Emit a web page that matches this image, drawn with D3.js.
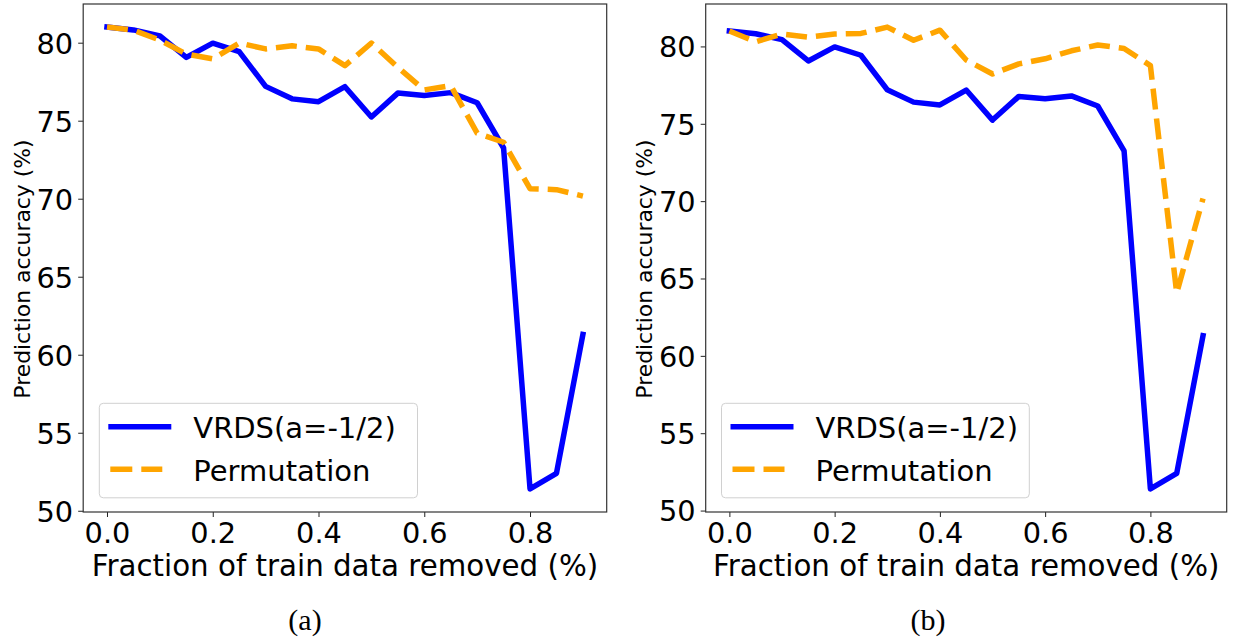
<!DOCTYPE html>
<html>
<head>
<meta charset="utf-8">
<script src="https://cdn.jsdelivr.net/npm/d3@7"></script>
<style>
  body { margin: 0; background: #fff; }
  svg { display: block; }
</style>
</head>
<body>
<svg id="chart" width="1233" height="639"></svg>
<script>
// ---- data ----
const fractions = [0.0, 0.05, 0.1, 0.15, 0.2, 0.25, 0.3, 0.35, 0.4, 0.45, 0.5, 0.55, 0.6, 0.65, 0.7, 0.75, 0.8, 0.85, 0.9];
const vrds = [81.0, 80.82, 80.44, 79.06, 79.97, 79.43, 77.2, 76.4, 76.22, 77.18, 75.24, 76.77, 76.62, 76.8, 76.15, 73.25, 51.4, 52.4, 61.3];
const permutationA = [81.0, 80.8, 80.17, 79.27, 78.96, 79.98, 79.6, 79.8, 79.6, 78.53, 79.98, 78.42, 76.97, 77.25, 74.2, 73.62, 70.64, 70.58, 70.17];
const permutationB = [81.0, 80.3, 80.8, 80.6, 80.8, 80.84, 81.25, 80.4, 81.05, 79.12, 78.22, 78.87, 79.2, 79.72, 80.09, 79.87, 78.76, 64.06, 70.17];
const xTicks = [0.0, 0.2, 0.4, 0.6, 0.8];
const yTicks = [50, 55, 60, 65, 70, 75, 80];
const seriesNames = ["VRDS(a=-1/2)", "Permutation"];
const captions = ["(a)", "(b)"];
const xLabel = "Fraction of train data removed (%)";
const yLabel = "Prediction accuracy (%)";

const svg = d3.select("#chart");
const FONT = "'DejaVu Sans', Verdana, sans-serif";

const panels = [
  { left: 83.2, right: 606.7, perm: permutationA, legend: [99.3, 417.5], ylabX: 22, capX: 305, cap: captions[0] },
  { left: 705.7, right: 1226.7, perm: permutationB, legend: [721.5, 1029.3], ylabX: 644, capX: 928, cap: captions[1] }
];
const plotTop = 4, plotBottom = 512;

panels.forEach(p => {
  const allY = vrds.concat(p.perm);
  const ymin = d3.min(allY), ymax = d3.max(allY);
  const ypad = (ymax - ymin) * 0.05;
  const xmin = d3.min(fractions), xmax = d3.max(fractions);
  const xpad = (xmax - xmin) * 0.05;

  const x = d3.scaleLinear().domain([xmin - xpad, xmax + xpad]).range([p.left, p.right]);
  const y = d3.scaleLinear().domain([ymin - ypad, ymax + ypad]).range([plotBottom, plotTop]);

  const g = svg.append("g");

  // lines
  const line = d3.line().x((d, i) => x(fractions[i])).y(d => y(d));
  g.append("path").datum(vrds)
    .attr("d", line).attr("fill", "none")
    .attr("stroke", "#0000ff").attr("stroke-width", 5.5)
    .attr("stroke-linejoin", "round").attr("stroke-linecap", "square");
  g.append("path").datum(p.perm)
    .attr("d", line).attr("fill", "none")
    .attr("stroke", "#ffa500").attr("stroke-width", 5.5)
    .attr("stroke-dasharray", "21,9")
    .attr("stroke-linejoin", "round").attr("stroke-linecap", "butt");

  // axes
  const xAxis = d3.axisBottom(x).tickValues(xTicks).tickFormat(d3.format(".1f")).tickSize(5).tickPadding(6);
  const yAxis = d3.axisLeft(y).tickValues(yTicks).tickFormat(d3.format("d")).tickSize(5).tickPadding(5);

  const gx = g.append("g").attr("transform", `translate(0,${plotBottom})`).call(xAxis);
  const gy = g.append("g").attr("transform", `translate(${p.left},0)`).call(yAxis);
  [gx, gy].forEach(a => {
    a.select(".domain").remove();
    a.selectAll(".tick line").attr("stroke", "#222").attr("stroke-width", 1);
    a.selectAll(".tick text").attr("font-family", FONT).attr("font-size", 28.8).attr("fill", "#000");
  });
  gy.selectAll(".tick text").attr("dy", "0.36em");

  // frame
  g.append("rect").attr("x", p.left).attr("y", plotTop)
    .attr("width", p.right - p.left).attr("height", plotBottom - plotTop)
    .attr("fill", "none").attr("stroke", "#333").attr("stroke-width", 1.2);

  // axis labels
  g.append("text").attr("x", (p.left + p.right) / 2).attr("y", 576)
    .attr("text-anchor", "middle").attr("font-family", FONT).attr("font-size", 29.3)
    .text(xLabel);
  g.append("text").attr("transform", `translate(${p.ylabX + 7.5},269) rotate(-90)`)
    .attr("text-anchor", "middle").attr("font-family", FONT).attr("font-size", 21.9)
    .text(yLabel);

  // legend
  const lg = g.append("g");
  lg.append("rect").attr("x", p.legend[0]).attr("y", 403.3)
    .attr("width", p.legend[1] - p.legend[0]).attr("height", 94.5)
    .attr("rx", 4).attr("fill", "#fff").attr("fill-opacity", 0.8)
    .attr("stroke", "#d0d0d0").attr("stroke-width", 1);
  const lx = p.legend[0] + 9;
  lg.append("line").attr("x1", lx).attr("x2", lx + 63).attr("y1", 426.7).attr("y2", 426.7)
    .attr("stroke", "#0000ff").attr("stroke-width", 5.5).attr("stroke-linecap", "butt");
  lg.append("line").attr("x1", lx + 2).attr("x2", lx + 54).attr("y1", 469.3).attr("y2", 469.3)
    .attr("stroke", "#ffa500").attr("stroke-width", 5.5).attr("stroke-dasharray", "22,9");
  lg.append("text").attr("x", p.legend[0] + 94).attr("y", 437.5)
    .attr("font-family", FONT).attr("font-size", 29).text(seriesNames[0]);
  lg.append("text").attr("x", p.legend[0] + 94).attr("y", 480.5)
    .attr("font-family", FONT).attr("font-size", 29).text(seriesNames[1]);

  // caption
  g.append("text").attr("x", p.capX).attr("y", 630)
    .attr("text-anchor", "middle").attr("font-family", "'Liberation Serif', 'DejaVu Serif', serif")
    .attr("font-size", 30).text(p.cap);
});
</script>
</body>
</html>
